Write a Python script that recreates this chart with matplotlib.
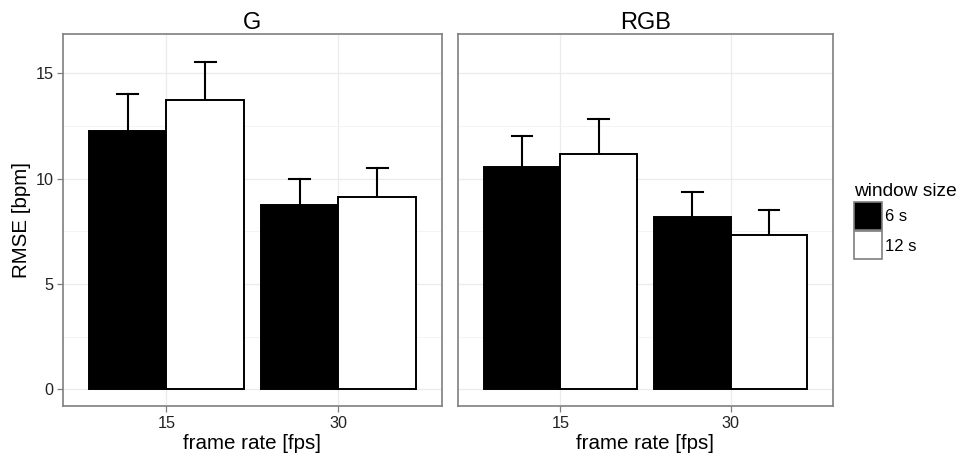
import numpy as np
import matplotlib
matplotlib.use("Agg")
import matplotlib.pyplot as plt
from matplotlib.patches import Patch

plt.rcParams["font.family"] = ["Liberation Sans", "DejaVu Sans"]

# ---- data ----
panels = ["G", "RGB"]
frame_rates = ["15", "30"]
windows = ["6 s", "12 s"]
# mean RMSE per frame rate, one list per window size
rmse_G_6 = [12.27, 8.73]
rmse_G_12 = [13.72, 9.11]
rmse_RGB_6 = [10.55, 8.19]
rmse_RGB_12 = [11.18, 7.31]
err_G_6 = [1.74, 1.25]
err_G_12 = [1.83, 1.41]
err_RGB_6 = [1.45, 1.19]
err_RGB_12 = [1.65, 1.21]

means = {"G": [rmse_G_6, rmse_G_12], "RGB": [rmse_RGB_6, rmse_RGB_12]}
errs = {"G": [err_G_6, err_G_12], "RGB": [err_RGB_6, err_RGB_12]}
fills = ["black", "white"]

W, H = 967, 461
fig = plt.figure(figsize=(W/100, H/100), dpi=100)
axes = [fig.add_axes([63.3/W, 55/H, 378.4/W, 371.7/H]),
        fig.add_axes([458.3/W, 55/H, 374.4/W, 371.7/H])]

x = np.arange(1, len(frame_rates)+1)
bw = 0.45
for ax, p in zip(axes, panels):
    ax.set_xlim(0.4, 2.6)
    ax.set_ylim(-0.79, 16.85)
    ax.set_yticks([0, 5, 10, 15])
    ax.set_yticks([2.5, 7.5, 12.5], minor=True)
    ax.set_xticks(x)
    ax.set_xticklabels(frame_rates)
    ax.grid(which="major", color="#ebebeb", lw=0.9)
    ax.grid(which="minor", axis="y", color="#f4f4f4", lw=0.7)
    ax.set_axisbelow(True)
    for sp in ax.spines.values():
        sp.set_color("#7f7f7f")
        sp.set_linewidth(1.2)
    ax.tick_params(which="major", length=4, color="#7f7f7f", width=0.9,
                   labelsize=11.7, labelcolor="#222222", pad=3)
    ax.tick_params(which="minor", length=0)
    for j in range(2):
        xs = x + (j - 0.5) * bw
        m = means[p][j]
        e = errs[p][j]
        # upper whisker only
        for xi, mi, ei in zip(xs, m, e):
            ax.plot([xi, xi], [mi, mi+ei], color="black", lw=1.5, zorder=2)
            ax.plot([xi-0.06, xi+0.06], [mi+ei, mi+ei], color="black", lw=1.5, zorder=2)
        ax.bar(xs, m, width=bw, color=fills[j], edgecolor="black", lw=1.4, zorder=3)
    ax.set_title(p, fontsize=17, pad=4)
    ax.set_xlabel("frame rate [fps]", fontsize=14.8, labelpad=2)

axes[0].set_ylabel("RMSE [bpm]", fontsize=14.8, labelpad=3)
axes[1].tick_params(axis="y", which="both", left=False, labelleft=False)

handles = [Patch(facecolor=f, edgecolor="#7f7f7f", lw=1.2) for f in fills]
fig.legend(handles, windows, title="window size", loc="upper left",
           bbox_to_anchor=(854/W, 1 - 183/H), frameon=False, fontsize=12,
           title_fontsize=13.8, handlelength=1.68, handleheight=2.21,
           labelspacing=0.1, handletextpad=0.2, borderpad=0, borderaxespad=0,
           alignment="left")

fig.savefig("out.png", dpi=100, facecolor="white")
